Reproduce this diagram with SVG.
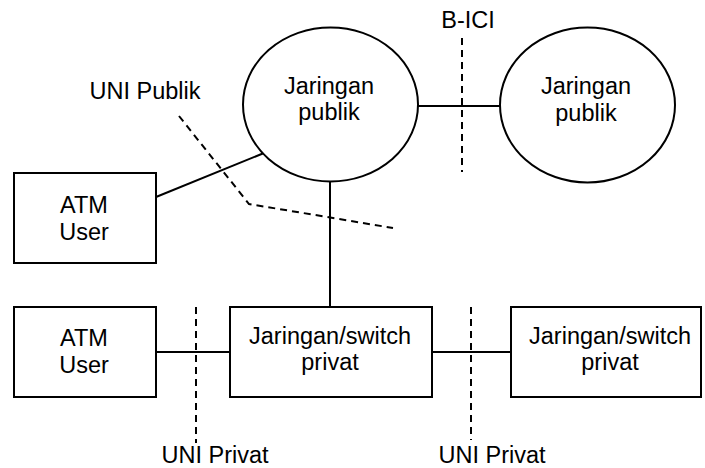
<svg xmlns="http://www.w3.org/2000/svg" width="705" height="468" viewBox="0 0 705 468">
  <style>
    .shape { fill: #ffffff; stroke: #000000; stroke-width: 2; }
    .link { fill: none; stroke: #000000; stroke-width: 2; }
    .bound { fill: none; stroke: #000000; stroke-width: 2; stroke-dasharray: 7 5; }
    text { font-family: "Liberation Sans", Arial, sans-serif; font-size: 23.5px; fill: #000000; text-anchor: middle; }
  </style>
  <rect width="705" height="468" fill="#ffffff"/>

  <!-- connectors -->
  <g id="connectors">
    <line class="link" x1="156" y1="197" x2="264" y2="153"/>
    <line class="link" x1="418" y1="106" x2="500" y2="106"/>
    <line class="link" x1="330" y1="181" x2="330" y2="307"/>
    <line class="link" x1="156" y1="352" x2="230" y2="352"/>
    <line class="link" x1="432" y1="352" x2="511" y2="352"/>
  </g>

  <!-- interface boundaries -->
  <g id="boundaries">
    <polyline class="bound" points="179,116 249,204 393,228"/>
    <line class="bound" x1="462" y1="38" x2="462" y2="172"/>
    <line class="bound" x1="196" y1="307" x2="196" y2="443"/>
    <line class="bound" x1="471" y1="307" x2="471" y2="440"/>
  </g>

  <g id="public-net-1">
    <ellipse class="shape" cx="330.5" cy="104.5" rx="87.5" ry="77"/>
    <text x="329" y="94">Jaringan</text>
    <text x="329" y="120">publik</text>
  </g>

  <g id="public-net-2">
    <ellipse class="shape" cx="587.5" cy="105" rx="87.5" ry="77.5"/>
    <text x="586" y="94">Jaringan</text>
    <text x="586" y="121">publik</text>
  </g>

  <g id="atm-user-1">
    <rect class="shape" x="14" y="173" width="142" height="90"/>
    <text x="84" y="213">ATM</text>
    <text x="84" y="240">User</text>
  </g>

  <g id="atm-user-2">
    <rect class="shape" x="14" y="307" width="142" height="90"/>
    <text x="84" y="346">ATM</text>
    <text x="84" y="373">User</text>
  </g>

  <g id="private-switch-1">
    <rect class="shape" x="230" y="307" width="202" height="90"/>
    <text x="330" y="344">Jaringan/switch</text>
    <text x="330" y="370">privat</text>
  </g>

  <g id="private-switch-2">
    <rect class="shape" x="511" y="307" width="190" height="90"/>
    <text x="610" y="344">Jaringan/switch</text>
    <text x="610" y="370">privat</text>
  </g>

  <g id="labels">
    <text x="145" y="99">UNI Publik</text>
    <text x="468" y="28">B-ICI</text>
    <text x="215" y="463">UNI Privat</text>
    <text x="492" y="463">UNI Privat</text>
  </g>
</svg>
